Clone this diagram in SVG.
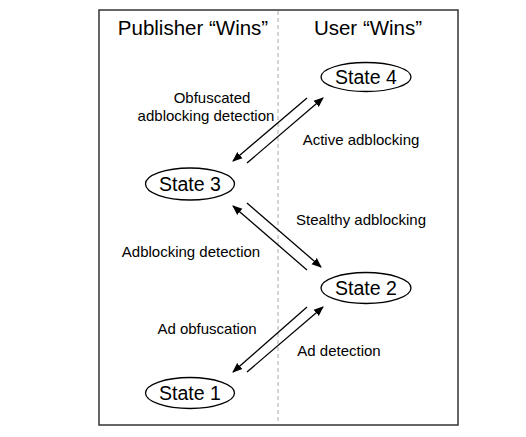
<svg xmlns="http://www.w3.org/2000/svg" width="526" height="437" viewBox="0 0 526 437">
<defs>
<marker id="ah" viewBox="0 0 10 10" refX="9" refY="5" markerWidth="10" markerHeight="10" markerUnits="userSpaceOnUse" orient="auto">
<path d="M0,1 L10,5 L0,9 Z" fill="#000"/>
</marker>
<style>
text{font-family:"Liberation Sans",Arial,Helvetica,sans-serif;fill:#000;text-anchor:middle}
.t{font-size:20.5px}
.s{font-size:19.5px}
.l{font-size:15px}
.n ellipse{fill:#fff;stroke:#000;stroke-width:1.3}
.c line{stroke:#000;stroke-width:1.3;marker-end:url(#ah)}
</style>
</defs>
<rect width="526" height="437" fill="#fff"/>
<rect x="99" y="10" width="359" height="415" fill="none" stroke="#333" stroke-width="1.5"/>
<line x1="278" y1="11" x2="278" y2="424" stroke="#aaa" stroke-width="1" stroke-dasharray="4,3"/>
<text class="t" x="193" y="35">Publisher “Wins”</text>
<text class="t" x="368" y="35">User “Wins”</text>
<g id="state4" class="n"><ellipse cx="366" cy="77" rx="45" ry="14.5"/><text class="s" x="366" y="84">State 4</text></g>
<g id="state3" class="n"><ellipse cx="190" cy="184" rx="44.5" ry="16"/><text class="s" x="190" y="191">State 3</text></g>
<g id="state2" class="n"><ellipse cx="366" cy="288" rx="45" ry="15.5"/><text class="s" x="366" y="295">State 2</text></g>
<g id="state1" class="n"><ellipse cx="190" cy="393" rx="44.5" ry="15.5"/><text class="s" x="190" y="400">State 1</text></g>
<g id="connectors" class="c">
<line x1="307" y1="98" x2="233" y2="161"/>
<line x1="247" y1="163" x2="323" y2="98"/>
<line x1="247" y1="203" x2="321" y2="267"/>
<line x1="307" y1="270" x2="233" y2="206"/>
<line x1="307" y1="307" x2="233" y2="372"/>
<line x1="247" y1="372" x2="323" y2="307"/>
</g>
<g id="labels">
<text class="l" x="212" y="103">Obfuscated</text>
<text class="l" x="206" y="121">adblocking detection</text>
<text class="l" x="361" y="145">Active adblocking</text>
<text class="l" x="361" y="225">Stealthy adblocking</text>
<text class="l" x="191" y="257">Adblocking detection</text>
<text class="l" x="207" y="334">Ad obfuscation</text>
<text class="l" x="339" y="356">Ad detection</text>
</g>
</svg>
